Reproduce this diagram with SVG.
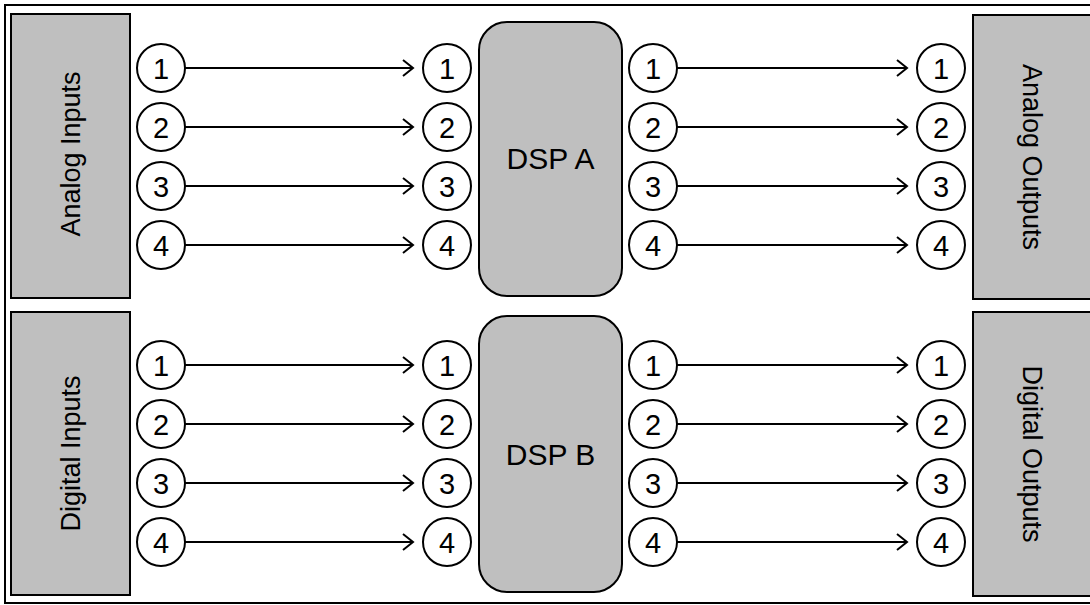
<svg xmlns="http://www.w3.org/2000/svg" width="1090" height="605" viewBox="0 0 1090 605">
<style>
.box{fill:#bfbfbf;stroke:#000;stroke-width:2}
.port{fill:#fff;stroke:#000;stroke-width:2}
.lbl{font-family:"Liberation Sans",Arial,sans-serif;font-size:27px;fill:#000;text-anchor:middle}
.dsp{font-family:"Liberation Sans",Arial,sans-serif;font-size:30px;fill:#000;text-anchor:middle}
.num{font-family:"Liberation Sans",Arial,sans-serif;font-size:29px;fill:#000;text-anchor:middle}
.wire{stroke:#000;stroke-width:2;fill:none;marker-end:url(#arr)}
</style>
<defs>
<marker id="arr" markerUnits="userSpaceOnUse" markerWidth="14" markerHeight="20" refX="11" refY="9" orient="auto">
<path d="M1,1 L11,9 L1,17" fill="none" stroke="#000" stroke-width="2"/>
</marker>
</defs>
<rect width="1090" height="605" fill="#fff"/>
<rect x="5" y="5" width="1095" height="598" fill="none" stroke="#000" stroke-width="2"/>

<g id="analog-inputs"><rect class="box" x="11" y="14" width="119" height="284"/><text class="lbl" transform="translate(70.5,154) rotate(-90)" dy="0.35em">Analog Inputs</text></g>
<g id="digital-inputs"><rect class="box" x="11" y="312" width="119" height="283"/><text class="lbl" transform="translate(70.5,453.5) rotate(-90)" dy="0.35em">Digital Inputs</text></g>
<g id="analog-outputs"><rect class="box" x="973" y="15" width="125" height="284"/><text class="lbl" transform="translate(1032,157) rotate(90)" dy="0.35em">Analog Outputs</text></g>
<g id="digital-outputs"><rect class="box" x="973" y="312" width="125" height="284"/><text class="lbl" transform="translate(1032,454) rotate(90)" dy="0.35em">Digital Outputs</text></g>
<g id="dsp-a"><rect class="box" x="479" y="22" width="143" height="274" rx="28"/><text class="dsp" x="550.5" y="169">DSP A</text></g>
<g id="dsp-b"><rect class="box" x="479" y="316" width="143" height="276" rx="28"/><text class="dsp" x="550.5" y="465">DSP B</text></g>

<g id="connectors">
<line class="wire" x1="185" y1="68" x2="413" y2="68"/>
<line class="wire" x1="185" y1="127" x2="413" y2="127"/>
<line class="wire" x1="185" y1="186" x2="413" y2="186"/>
<line class="wire" x1="185" y1="245" x2="413" y2="245"/>
<line class="wire" x1="185" y1="365" x2="413" y2="365"/>
<line class="wire" x1="185" y1="424" x2="413" y2="424"/>
<line class="wire" x1="185" y1="483" x2="413" y2="483"/>
<line class="wire" x1="185" y1="542" x2="413" y2="542"/>
<line class="wire" x1="677" y1="68" x2="907" y2="68"/>
<line class="wire" x1="677" y1="127" x2="907" y2="127"/>
<line class="wire" x1="677" y1="186" x2="907" y2="186"/>
<line class="wire" x1="677" y1="245" x2="907" y2="245"/>
<line class="wire" x1="677" y1="365" x2="907" y2="365"/>
<line class="wire" x1="677" y1="424" x2="907" y2="424"/>
<line class="wire" x1="677" y1="483" x2="907" y2="483"/>
<line class="wire" x1="677" y1="542" x2="907" y2="542"/>
</g>

<g id="ai1"><circle class="port" cx="161" cy="68" r="24"/><text class="num" x="161" y="78.5">1</text></g>
<g id="ai2"><circle class="port" cx="161" cy="127" r="24"/><text class="num" x="161" y="137.5">2</text></g>
<g id="ai3"><circle class="port" cx="161" cy="186" r="24"/><text class="num" x="161" y="196.5">3</text></g>
<g id="ai4"><circle class="port" cx="161" cy="245" r="24"/><text class="num" x="161" y="255.5">4</text></g>
<g id="di1"><circle class="port" cx="161" cy="365" r="24"/><text class="num" x="161" y="375.5">1</text></g>
<g id="di2"><circle class="port" cx="161" cy="424" r="24"/><text class="num" x="161" y="434.5">2</text></g>
<g id="di3"><circle class="port" cx="161" cy="483" r="24"/><text class="num" x="161" y="493.5">3</text></g>
<g id="di4"><circle class="port" cx="161" cy="542" r="24"/><text class="num" x="161" y="552.5">4</text></g>

<g id="dai1"><circle class="port" cx="447" cy="68" r="24"/><text class="num" x="447" y="78.5">1</text></g>
<g id="dai2"><circle class="port" cx="447" cy="127" r="24"/><text class="num" x="447" y="137.5">2</text></g>
<g id="dai3"><circle class="port" cx="447" cy="186" r="24"/><text class="num" x="447" y="196.5">3</text></g>
<g id="dai4"><circle class="port" cx="447" cy="245" r="24"/><text class="num" x="447" y="255.5">4</text></g>
<g id="dbi1"><circle class="port" cx="447" cy="365" r="24"/><text class="num" x="447" y="375.5">1</text></g>
<g id="dbi2"><circle class="port" cx="447" cy="424" r="24"/><text class="num" x="447" y="434.5">2</text></g>
<g id="dbi3"><circle class="port" cx="447" cy="483" r="24"/><text class="num" x="447" y="493.5">3</text></g>
<g id="dbi4"><circle class="port" cx="447" cy="542" r="24"/><text class="num" x="447" y="552.5">4</text></g>

<g id="dao1"><circle class="port" cx="653" cy="68" r="24"/><text class="num" x="653" y="78.5">1</text></g>
<g id="dao2"><circle class="port" cx="653" cy="127" r="24"/><text class="num" x="653" y="137.5">2</text></g>
<g id="dao3"><circle class="port" cx="653" cy="186" r="24"/><text class="num" x="653" y="196.5">3</text></g>
<g id="dao4"><circle class="port" cx="653" cy="245" r="24"/><text class="num" x="653" y="255.5">4</text></g>
<g id="dbo1"><circle class="port" cx="653" cy="365" r="24"/><text class="num" x="653" y="375.5">1</text></g>
<g id="dbo2"><circle class="port" cx="653" cy="424" r="24"/><text class="num" x="653" y="434.5">2</text></g>
<g id="dbo3"><circle class="port" cx="653" cy="483" r="24"/><text class="num" x="653" y="493.5">3</text></g>
<g id="dbo4"><circle class="port" cx="653" cy="542" r="24"/><text class="num" x="653" y="552.5">4</text></g>

<g id="ao1"><circle class="port" cx="941" cy="68" r="24"/><text class="num" x="941" y="78.5">1</text></g>
<g id="ao2"><circle class="port" cx="941" cy="127" r="24"/><text class="num" x="941" y="137.5">2</text></g>
<g id="ao3"><circle class="port" cx="941" cy="186" r="24"/><text class="num" x="941" y="196.5">3</text></g>
<g id="ao4"><circle class="port" cx="941" cy="245" r="24"/><text class="num" x="941" y="255.5">4</text></g>
<g id="do1"><circle class="port" cx="941" cy="365" r="24"/><text class="num" x="941" y="375.5">1</text></g>
<g id="do2"><circle class="port" cx="941" cy="424" r="24"/><text class="num" x="941" y="434.5">2</text></g>
<g id="do3"><circle class="port" cx="941" cy="483" r="24"/><text class="num" x="941" y="493.5">3</text></g>
<g id="do4"><circle class="port" cx="941" cy="542" r="24"/><text class="num" x="941" y="552.5">4</text></g>
</svg>
